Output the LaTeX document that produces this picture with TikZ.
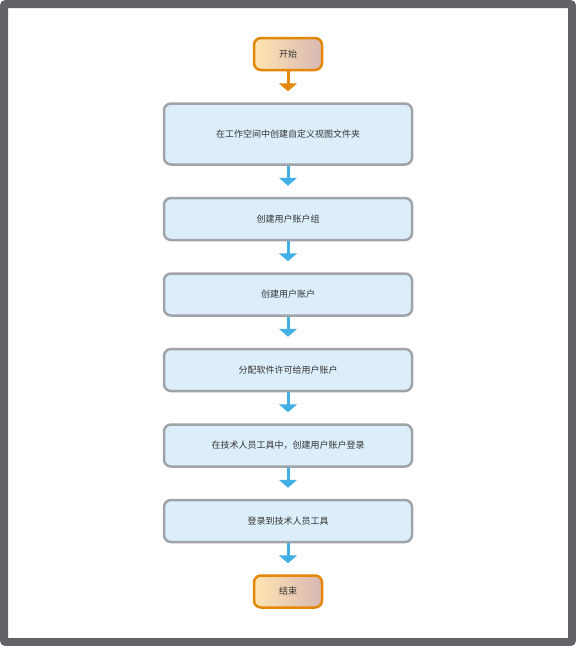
\documentclass[tikz,border=0pt]{standalone}
\usepackage{fontspec}
\newfontfamily\cjk{Noto Sans CJK SC}
\usetikzlibrary{positioning, arrows.meta}
\definecolor{FlowFrame}{RGB}{98,98,104}
\definecolor{FlowGray}{RGB}{160,164,170}
\definecolor{FlowFill}{RGB}{220,238,249}
\definecolor{FlowBlue}{RGB}{66,176,228}
\definecolor{FlowOrange}{RGB}{229,135,10}
\definecolor{FlowLight}{RGB}{254,229,176}
\definecolor{FlowPink}{RGB}{216,184,180}
\definecolor{FlowText}{RGB}{51,51,51}

\begin{document}
\begin{tikzpicture}[
    font=\cjk\fontsize{9}{11}\selectfont,
    node distance=31pt,
    stepbox/.style={
        draw=FlowGray,
        line width=2.5pt,
        rounded corners=7pt,
        fill=FlowFill,
        text=FlowText,
        align=center,
        text width=230pt,
        minimum width=248pt,
        minimum height=42pt
    },
    termbox/.style={
        draw=FlowOrange,
        line width=2.5pt,
        rounded corners=7pt,
        left color=FlowLight,
        right color=FlowPink,
        text=FlowText,
        minimum width=68pt,
        minimum height=32pt
    },
    arrow/.style={
        -{Triangle[width=18pt,length=8pt]},
        line width=3pt,
        FlowBlue,
        shorten >=11pt
    }
]

% Frame round the whole picture
\draw[FlowFrame, line width=8pt, fill=white, rounded corners=2pt] (4pt,-4pt) rectangle (572pt,-642pt);

% Start and the six steps, top to bottom
\node[termbox] (start) at (288pt,-54pt) {开始};
\node[stepbox, below=of start, minimum height=61pt] (s1) {在工作空间中创建自定义视图文件夹};
\node[stepbox, below=of s1] (s2) {创建用户账户组};
\node[stepbox, below=of s2] (s3) {创建用户账户};
\node[stepbox, below=of s3] (s4) {分配软件许可给用户账户};
\node[stepbox, below=of s4] (s5) {在技术人员工具中，创建用户账户登录};
\node[stepbox, below=of s5] (s6) {登录到技术人员工具};
\node[termbox, below=of s6] (stop) {结束};

% Arrows
\draw[arrow, FlowOrange] (start) -- (s1);
\draw[arrow] (s1) -- (s2);
\draw[arrow] (s2) -- (s3);
\draw[arrow] (s3) -- (s4);
\draw[arrow] (s4) -- (s5);
\draw[arrow] (s5) -- (s6);
\draw[arrow] (s6) -- (stop);

\end{tikzpicture}
\end{document}
